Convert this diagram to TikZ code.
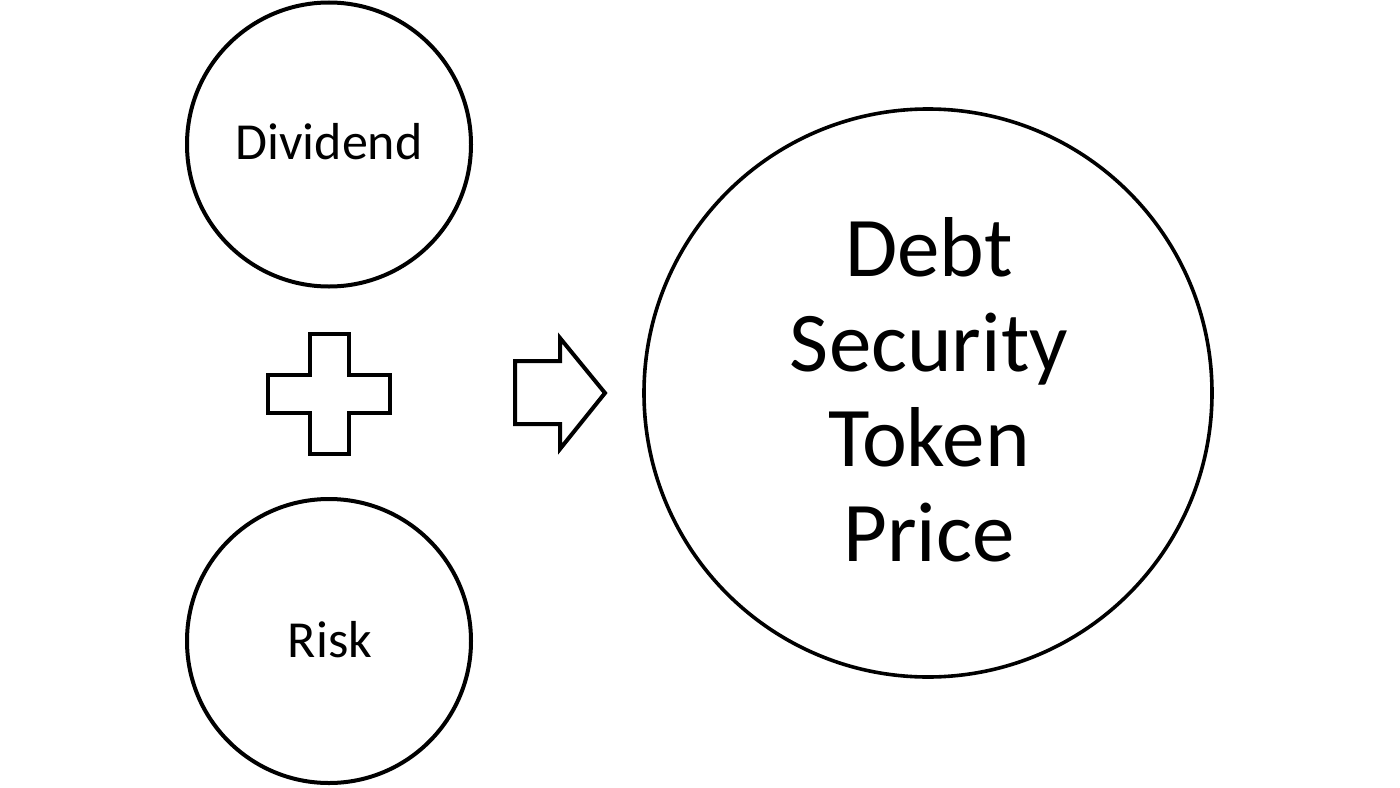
\documentclass[tikz,border=0pt]{standalone}
\usepackage{fontspec}
\setmainfont{Carlito}
\begin{document}
\begin{tikzpicture}[x=1pt,y=-1pt,
  ring/.style={draw=black,line width=4pt,circle,inner sep=0pt},
  smalltxt/.style={font=\fontsize{52}{60}\selectfont,inner sep=0pt,anchor=base},
  bigtxt/.style={font=\fontsize{85}{95}\selectfont,inner sep=0pt,align=center},
  outline/.style={draw=black,line width=4pt,line join=miter}]
\useasboundingbox[fill=white] (0,0) rectangle (1400,787);
\node[ring,minimum size=284pt] (div) at (329,144.5) {};
\node[ring,minimum size=284pt] (risk) at (329,641) {};
\node[ring,minimum size=568pt,line width=3.6pt] (price) at (928,393) {};
\node[smalltxt] (divt) at (329,159) {Dividend};
\node[smalltxt] (riskt) at (330,657) {Risk};
\node[bigtxt] (pricet) at (929,390) {Debt\\Security\\Token\\Price};
% plus sign
\draw[outline] (310,334) -- (349,334) -- (349,375) -- (390,375) -- (390,413)
  -- (349,413) -- (349,454) -- (310,454) -- (310,413) -- (268,413)
  -- (268,375) -- (310,375) -- cycle;
% block arrow
\draw[outline] (515,361) -- (560,361) -- (560,338) -- (605,393) -- (560,449)
  -- (560,424) -- (515,424) -- cycle;
\end{tikzpicture}
\end{document}
